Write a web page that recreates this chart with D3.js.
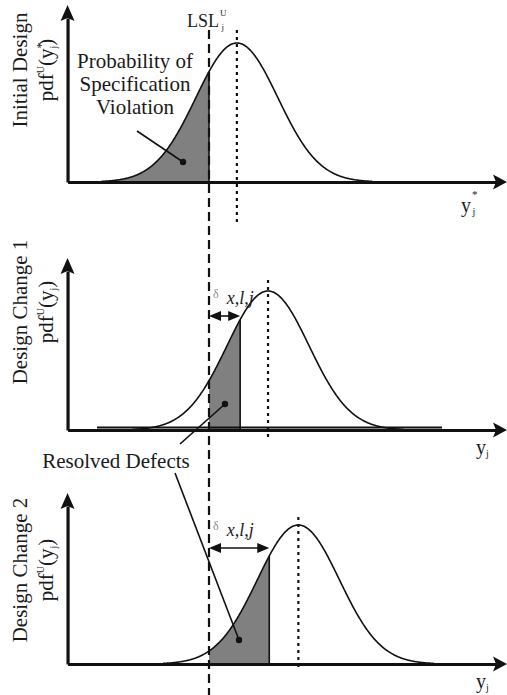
<!DOCTYPE html>
<html><head><meta charset="utf-8">
<script src="https://cdn.jsdelivr.net/npm/d3@7"></script>
<style>
body{margin:0;background:#fff}
svg{display:block}
</style>
</head><body>
<svg id="c" width="507" height="695" font-family="Liberation Serif, DejaVu Serif, serif"></svg>
<script>
// ---- data ----
const panelTitles = ["Initial Design", "Design Change 1", "Design Change 2"];
const means = [0.68, 1.44, 2.18];          // mean of each pdf (units of sigma)
const sigma = 1;
const LSL = 0;                              // lower spec limit
const shadeStart = [-2.62, 0, 0];           // shaded region start
const shadeEnd = [0, 0.76, 1.47];           // shaded region end
const deltas = [null, 0.76, 1.47];          // shift arrows
const xLabelStar = [true, false, false];

// ---- layout ----
const W = 507, H = 695;
const svg = d3.select("#c");
const bases = [182, 430, 664];
const axisTopPx = [5, 258, 493];
const titleCenters = [70, 312, 570];
const txt = "#1a1a1a";

const x = d3.scaleLinear().domain([-3.45, 7.0]).range([67.55, 496]);
const pdf = u => Math.exp(-0.5 * ((u) / sigma) ** 2) / (sigma * Math.sqrt(2 * Math.PI));

panelTitles.forEach((title, i) => {
  const base = bases[i];
  const y = d3.scaleLinear().domain([0, 0.4]).range([base, base - 139.4]);
  const m = means[i];
  const pts = d3.range(m - 3.3, m + 3.3001, 0.02).map(u => [u, pdf(u - m)]);
  const g = svg.append("g");

  // shaded area
  const sh = pts.filter(p => p[0] >= shadeStart[i] && p[0] <= shadeEnd[i]);
  sh.push([shadeEnd[i], pdf(shadeEnd[i] - m)]);
  if (shadeStart[i] > m - 3.3) sh.unshift([shadeStart[i], pdf(shadeStart[i] - m)]);
  g.append("path").datum(sh)
    .attr("d", d3.area().x(d => x(d[0])).y0(y(0)).y1(d => y(d[1])))
    .attr("fill", "#808080");
  g.append("line")
    .attr("x1", x(shadeEnd[i])).attr("x2", x(shadeEnd[i]))
    .attr("y1", y(0)).attr("y2", y(pdf(shadeEnd[i] - m)))
    .attr("stroke", "#111").attr("stroke-width", 1.6);

  // curve
  g.append("path").datum(pts)
    .attr("d", d3.line().x(d => x(d[0])).y(d => y(d[1])))
    .attr("fill", "none").attr("stroke", "#111").attr("stroke-width", 1.6);

  if (i === 1) {
    g.append("line").attr("x1", 97).attr("x2", 442)
      .attr("y1", base - 2.5).attr("y2", base - 2.5)
      .attr("stroke", "#111").attr("stroke-width", 2.2);
  }

  // x axis (no ticks) + arrow
  const xa = g.append("g").attr("transform", `translate(0,${base})`)
    .call(d3.axisBottom(x).ticks(0).tickSizeOuter(0));
  xa.select(".domain").attr("stroke", "#111").attr("stroke-width", 3.2);
  g.append("path")
    .attr("d", `M${W},${base} L${W - 14},${base - 7.5} L${W - 11},${base} L${W - 14},${base + 7.5} Z`)
    .attr("fill", "#111");

  // y axis + arrow
  const yAxisScale = d3.scaleLinear().domain([0, 1]).range([base, axisTopPx[i] + 13]);
  const ya = g.append("g").attr("transform", `translate(${x(-3.45)},0)`)
    .call(d3.axisLeft(yAxisScale).ticks(0).tickSizeOuter(0));
  ya.select(".domain").attr("stroke", "#111").attr("stroke-width", 3.2);
  const ax = x(-3.45), at = axisTopPx[i];
  g.append("path")
    .attr("d", `M${ax},${at} L${ax - 7},${at + 16} L${ax},${at + 13} L${ax + 7},${at + 16} Z`)
    .attr("fill", "#111");

  // mean dotted line
  const dotTop = [30, 280, 517][i], dotBot = [222, 441, 669][i];
  g.append("line").attr("x1", x(m)).attr("x2", x(m))
    .attr("y1", dotTop).attr("y2", dotBot)
    .attr("stroke", "#111").attr("stroke-width", 2.2)
    .attr("stroke-dasharray", "3,4");

  // rotated titles
  const tc = titleCenters[i];
  g.append("text")
    .attr("transform", `translate(27,${tc}) rotate(-90)`)
    .attr("text-anchor", "middle").attr("font-size", 21).attr("fill", txt).text(title);
  const t2 = g.append("text")
    .attr("transform", `translate(53,${tc}) rotate(-90)`)
    .attr("text-anchor", "middle").attr("font-size", 21).attr("fill", txt);
  t2.append("tspan").text("pdf");
  t2.append("tspan").attr("font-size", 10).attr("dy", -9).text("U");
  t2.append("tspan").attr("dy", 9).text("(y");
  if (xLabelStar[i]) {
    t2.append("tspan").attr("font-size", 12).attr("dy", -8).text("*");
    t2.append("tspan").attr("font-size", 10).attr("dx", -6).attr("dy", 12).text("j");
    t2.append("tspan").attr("dy", -4).text(")");
  } else {
    t2.append("tspan").attr("font-size", 10).attr("dy", 4).text("j");
    t2.append("tspan").attr("dy", -4).text(")");
  }

  // x label
  const xl = g.append("text").attr("x", xLabelStar[i] ? 461 : 476).attr("y", base + (xLabelStar[i] ? 30 : 24))
    .attr("font-size", 20).attr("fill", txt);
  xl.append("tspan").text("y");
  if (xLabelStar[i]) {
    xl.append("tspan").attr("font-size", 11).attr("dy", -14).attr("dx", 1).text("*");
    xl.append("tspan").attr("font-size", 10).attr("dx", -5).attr("dy", 17).text("j");
  } else {
    xl.append("tspan").attr("font-size", 10).attr("dy", 3).text("j");
  }

  // delta double arrows
  if (deltas[i] !== null) {
    const ay = [0, 316, 548][i];
    const x0 = x(LSL), x1 = x(LSL + deltas[i]);
    g.append("line").attr("x1", x0 + 8).attr("x2", x1 - 8).attr("y1", ay).attr("y2", ay)
      .attr("stroke", "#111").attr("stroke-width", 1.6);
    g.append("path").attr("d", `M${x0},${ay} L${x0 + 12},${ay - 5} L${x0 + 12},${ay + 5} Z`).attr("fill", "#111");
    g.append("path").attr("d", `M${x1},${ay} L${x1 - 12},${ay - 5} L${x1 - 12},${ay + 5} Z`).attr("fill", "#111");
    const dl = g.append("text").attr("x", x0 + 4).attr("y", ay - 12).attr("fill", txt);
    dl.append("tspan").attr("font-size", 12).attr("fill", "#888").attr("dy", -6).text("δ");
    dl.append("tspan").attr("font-size", 18).attr("font-style", "italic").attr("dx", 8).attr("dy", 6).text("x,l,j");
  }
});

// LSL dashed line
svg.append("line").attr("x1", x(LSL)).attr("x2", x(LSL))
  .attr("y1", 30).attr("y2", H)
  .attr("stroke", "#111").attr("stroke-width", 2.2)
  .attr("stroke-dasharray", "9,5");

// LSL label
const lsl = svg.append("text").attr("x", 187).attr("y", 27).attr("font-size", 18).attr("fill", txt);
lsl.append("tspan").text("LSL");
lsl.append("tspan").attr("font-size", 9).attr("dy", -11).attr("dx", 1).text("U");
lsl.append("tspan").attr("font-size", 9).attr("dx", -5).attr("dy", 14).text("j");

// annotation: probability of spec violation
const pv = svg.append("text").attr("text-anchor", "middle").attr("font-size", 21).attr("fill", txt);
[["Probability of", 68], ["Specification", 91], ["Violation", 114]].forEach(([s, yy]) =>
  pv.append("tspan").attr("x", 135).attr("y", yy).text(s));
svg.append("line").attr("x1", 137).attr("y1", 131).attr("x2", 183).attr("y2", 162)
  .attr("stroke", "#111").attr("stroke-width", 1.6);
svg.append("circle").attr("cx", 183).attr("cy", 162).attr("r", 3.2).attr("fill", "#111");

// annotation: resolved defects
svg.append("text").attr("x", 116).attr("y", 468).attr("text-anchor", "middle")
  .attr("font-size", 21).attr("fill", txt).text("Resolved Defects");
svg.append("line").attr("x1", 180).attr("y1", 444).attr("x2", 225).attr("y2", 404)
  .attr("stroke", "#111").attr("stroke-width", 1.6);
svg.append("circle").attr("cx", 225).attr("cy", 404).attr("r", 3.2).attr("fill", "#111");
svg.append("line").attr("x1", 175).attr("y1", 473).attr("x2", 239).attr("y2", 640)
  .attr("stroke", "#111").attr("stroke-width", 1.6);
svg.append("circle").attr("cx", 239).attr("cy", 640).attr("r", 3.2).attr("fill", "#111");
</script>
</body></html>
